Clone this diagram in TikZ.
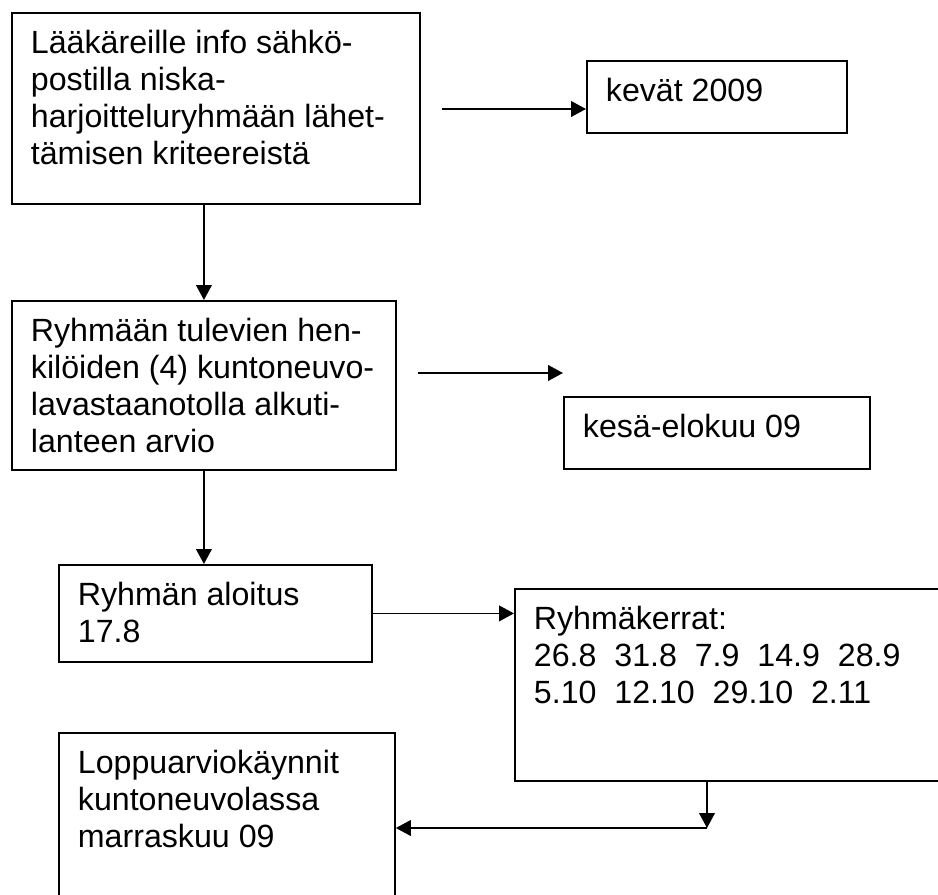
\documentclass[tikz,border=0pt]{standalone}
\usepackage{fontspec}
\setmainfont{Liberation Sans}
\usetikzlibrary{arrows.meta,calc}

\tikzset{
	laatikko/.style={draw, line width=1.1pt, anchor=north west, inner xsep=11.4pt, inner ysep=9pt, font=\fontsize{19.3}{22.2}\selectfont},
	nuoli/.style={-{Triangle[length=9pt,width=9.4pt]}, line width=1.1pt},
}

\begin{document}
\begin{tikzpicture}[x=0.6pt,y=-0.6pt]
	\frenchspacing
	\useasboundingbox (0,0) rectangle (938,894);
	\clip (0,0) rectangle (938,894); %oikea ja alareuna jaavat kuvan ulkopuolelle
	%Laatikot
	%===========================================================
	\node[laatikko] (info) at (11,12) {\parbox[t][96.6pt][t]{222pt}{\raggedright\strut Lääkäreille info sähkö-\\postilla niska-\\harjoitteluryhmään lähet-\\tämisen kriteereistä}};
	\node[laatikko] (kevat) at (586,60) {\parbox[t][25.2pt][t]{133.2pt}{\raggedright\strut kevät 2009}};
	\node[laatikko] (arvio) at (11,300) {\parbox[t][83.4pt][t]{207.6pt}{\raggedright\strut Ryhmään tulevien hen-\\kilöiden (4) kuntoneuvo-\\lavastaanotolla alkuti-\\lanteen arvio}};
	\node[laatikko] (kesa) at (563,396) {\parbox[t][25.2pt][t]{160.8pt}{\raggedright\strut kesä-elokuu 09}};
	\node[laatikko] (aloitus) at (58,564) {\parbox[t][40.2pt][t]{165pt}{\raggedright\strut Ryhmän aloitus\\17.8}};
	\node[laatikko] (kerrat) at (514,588) {\parbox[t][97.2pt][t]{244.8pt}{\raggedright\strut Ryhmäkerrat:\\26.8~~31.8~~7.9~~14.9~~28.9\\5.10~~12.10~~29.10~~2.11}}; %oikea reuna leikattu
	\node[laatikko] (loppu) at (58,732) {\parbox[t][94.8pt][t]{178.8pt}{\raggedright\strut Loppuarviokäynnit\\kuntoneuvolassa\\marraskuu 09}}; %alareuna leikattu
	%Nuolet
	%===========================================================
	\coordinate (a1) at (442,109); %irrallinen alku
	\draw[nuoli] (a1) -- (a1 -| kevat.west);
	\draw[nuoli] (info.south -| arvio.north) -- (arvio.north);
	\coordinate (a3) at (418,373);
	\coordinate (a3k) at (563,373); %nuoli ei osu laatikkoon
	\draw[nuoli] (a3) -- (a3k);
	\draw[nuoli] (arvio.south) -- (arvio.south |- aloitus.north);
	\draw[nuoli] (aloitus.east) -- (aloitus.east -| kerrat.west);
	\coordinate (kulma) at (707,828); %kulmapiste
	\draw[nuoli] (kerrat.south -| kulma) -- (kulma);
	\draw[nuoli] (kulma) -- (kulma -| loppu.east);
\end{tikzpicture}
\end{document}
